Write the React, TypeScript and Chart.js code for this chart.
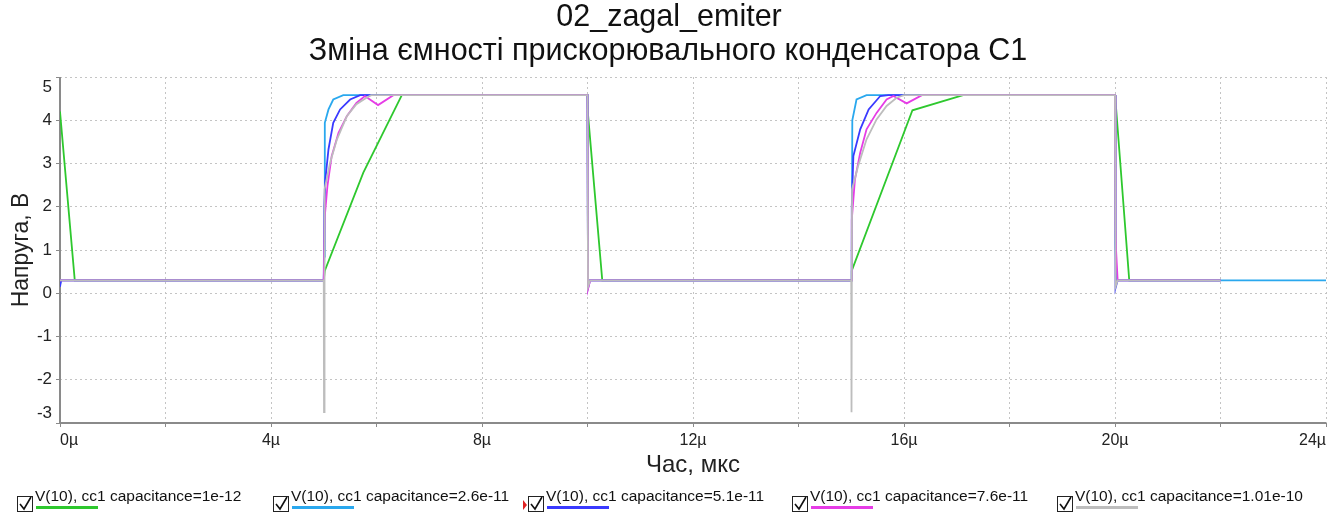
import React, { useEffect, useRef } from 'react';
import { Chart, registerables } from 'chart.js';

Chart.register(...registerables);

const TITLE_LINES = ['02_zagal_emiter', 'Зміна ємності прискорювального конденсатора С1'];
const X_TITLE = 'Час, мкс';
const Y_TITLE = 'Напруга, В';

const SERIES_NAMES = [
  'V(10), cc1 capacitance=1e-12',
  'V(10), cc1 capacitance=2.6e-11',
  'V(10), cc1 capacitance=5.1e-11',
  'V(10), cc1 capacitance=7.6e-11',
  'V(10), cc1 capacitance=1.01e-10',
];
const SERIES_COLORS = ['#2ec82e', '#2aa8ee', '#3a3aff', '#e63ce6', '#bdbdbd'];

// time in µs, voltage in V
const greenT = [0, 0.28, 5.0, 5.02, 5.75, 6.48, 10.0, 10.01, 10.28, 15.0, 15.01, 16.16, 17.12, 20.0, 20.01, 20.27, 22.0];
const greenV = [4.2, 0.3, 0.3, 0.52, 2.79, 4.58, 4.58, 4.13, 0.3, 0.3, 0.52, 4.23, 4.58, 4.58, 4.45, 0.3, 0.3];

const cyanT = [0, 0.02, 5.0, 5.01, 5.02, 5.09, 5.18, 5.37, 10.0, 10.01, 10.04, 15.0, 15.01, 15.02, 15.1, 15.29, 20.0, 20.01, 20.03, 24.0];
const cyanV = [0.2, 0.3, 0.3, 0.85, 3.94, 4.25, 4.48, 4.58, 4.58, 0.2, 0.3, 0.3, 0.85, 4.0, 4.48, 4.58, 4.58, 1.1, 0.3, 0.3];

const blueT = [0, 0.02, 5.0, 5.01, 5.03, 5.09, 5.18, 5.31, 5.5, 5.69, 10.0, 10.01, 10.05, 15.0, 15.01, 15.04, 15.17, 15.33, 15.55, 15.7, 20.0, 20.01, 20.05, 22.0];
const blueV = [0.15, 0.3, 0.3, 2.02, 2.63, 3.33, 3.94, 4.25, 4.48, 4.58, 4.58, 0.12, 0.3, 0.3, 2.0, 3.17, 3.79, 4.25, 4.56, 4.58, 4.58, 0.12, 0.3, 0.3];

const magentaT = [0, 5.0, 5.02, 5.07, 5.15, 5.28, 5.44, 5.62, 5.78, 6.03, 6.32, 10.0, 10.01, 10.05, 15.0, 15.01, 15.07, 15.17, 15.29, 15.48, 15.67, 15.8, 16.05, 16.34, 20.0, 20.01, 20.02, 20.05, 22.0];
const magentaV = [0.3, 0.3, 1.78, 2.48, 3.17, 3.71, 4.1, 4.4, 4.56, 4.35, 4.58, 4.58, 0.1, 0.3, 0.3, 1.7, 2.63, 3.25, 3.79, 4.17, 4.48, 4.56, 4.39, 4.58, 4.58, 1.55, 1.0, 0.3, 0.3];

const grayT = [0, 5.0, 5.005, 5.015, 5.12, 5.25, 5.44, 5.62, 5.81, 5.9, 10.0, 10.01, 10.05, 15.0, 15.005, 15.015, 15.13, 15.29, 15.48, 15.67, 15.86, 16.0, 20.0, 20.01, 20.05, 22.0];
const grayV = [0.3, 0.3, -2.75, 2.4, 3.02, 3.56, 4.1, 4.37, 4.52, 4.58, 4.58, 0.15, 0.3, 0.3, -2.75, 2.4, 2.94, 3.56, 4.02, 4.33, 4.52, 4.58, 4.58, 0.15, 0.3, 0.3];

const SERIES_T = [greenT, cyanT, blueT, magentaT, grayT];
const SERIES_V = [greenV, cyanV, blueV, magentaV, grayV];
const DRAW_ORDER = [4, 3, 2, 1, 0];

const X_MIN = 0;
const X_MAX = 24;
const X_STEP = 2;
const X_LABEL_STEP = 4;
const Y_MIN = -3;
const Y_MAX = 5;
const Y_STEP = 1;

const FONT = "'Liberation Sans', Arial, sans-serif";
const LEGEND_X = [17, 273, 528, 792, 1057];
const TICK_FONT_SIZE = 17;
const AXIS_COLOR = '#8a8a8a';

const decorPlugin = {
  id: 'decor',
  beforeDatasetsDraw(chart: any) {
    const ctx = chart.ctx;
    const a = chart.chartArea;
    ctx.save();
    ctx.strokeStyle = AXIS_COLOR;
    ctx.lineWidth = 2;
    ctx.setLineDash([]);
    ctx.beginPath();
    ctx.moveTo(a.left, a.top);
    ctx.lineTo(a.left, a.bottom);
    ctx.lineTo(a.right, a.bottom);
    ctx.stroke();
    ctx.restore();
  },
  afterDraw(chart: any) {
    const ctx = chart.ctx;
    ctx.save();
    ctx.fillStyle = '#111';
    ctx.font = `30.5px ${FONT}`;
    ctx.textAlign = 'center';
    ctx.textBaseline = 'middle';
    ctx.fillText(TITLE_LINES[0], 669, 18);
    ctx.fillText(TITLE_LINES[1], 668, 52);
    // end labels of the value axis sit inside the plot edges
    const y = chart.scales.y;
    ctx.font = `${TICK_FONT_SIZE}px ${FONT}`;
    ctx.fillStyle = '#222';
    ctx.textAlign = 'right';
    ctx.fillText(String(Y_MAX), y.right - 8, y.getPixelForValue(Y_MAX) + 10);
    ctx.fillText(String(Y_MIN), y.right - 8, y.getPixelForValue(Y_MIN) - 10);
    ctx.restore();
  },
};

function CheckBox() {
  return (
    <svg width="16" height="16" style={{ position: 'absolute', left: 0, top: 10 }}>
      <rect x="0.5" y="0.5" width="15" height="15" fill="#fff" stroke="#222" strokeWidth="1" />
      <polyline points="3,8 7,13 14,1" fill="none" stroke="#111" strokeWidth="1.6" />
    </svg>
  );
}

export default function App() {
  const ref = useRef<HTMLCanvasElement | null>(null);

  useEffect(() => {
    if (!ref.current) return;
    const datasets = SERIES_NAMES.map((name, i) => ({
      label: name,
      data: SERIES_T[i].map((t, j) => ({ x: t, y: SERIES_V[i][j] })),
      borderColor: SERIES_COLORS[i],
      backgroundColor: SERIES_COLORS[i],
      borderWidth: 1.8,
      pointRadius: 0,
      tension: 0,
      fill: false,
      order: DRAW_ORDER[i],
    }));
    const chart = new Chart(ref.current, {
      type: 'line',
      data: { datasets },
      plugins: [decorPlugin],
      options: {
        responsive: false,
        animation: false,
        devicePixelRatio: 1,
        layout: { padding: { top: 77, right: 14, bottom: 38, left: 0 } },
        plugins: { legend: { display: false }, title: { display: false }, tooltip: { enabled: false } },
        scales: {
          x: {
            type: 'linear',
            min: X_MIN,
            max: X_MAX,
            afterFit(scale: any) { scale.height = 57; },
            border: { display: false, dash: [2, 3] },
            grid: { color: '#c4c4c4', tickLength: 4, tickColor: AXIS_COLOR, tickBorderDash: [] },
            ticks: {
              stepSize: X_STEP,
              autoSkip: false,
              maxRotation: 0,
              align: 'inner',
              padding: 4,
              color: '#222',
              font: { family: FONT, size: 16 },
              callback: (v: any) => (Number(v) % X_LABEL_STEP === 0 ? `${v}µ` : ''),
            },
            title: { display: true, text: X_TITLE, color: '#222', font: { family: FONT, size: 24 }, padding: { top: 0, bottom: 0 } },
          },
          y: {
            type: 'linear',
            min: Y_MIN,
            max: Y_MAX,
            afterFit(scale: any) { scale.width = 60; },
            border: { display: false, dash: [2, 3] },
            grid: { color: '#c4c4c4', tickLength: 4, tickColor: AXIS_COLOR, tickBorderDash: [] },
            ticks: {
              stepSize: Y_STEP,
              padding: 4,
              color: '#222',
              font: { family: FONT, size: TICK_FONT_SIZE },
              callback: (v: any) => (Number(v) === Y_MAX || Number(v) === Y_MIN ? '' : String(v)),
            },
            title: { display: true, text: Y_TITLE, color: '#222', font: { family: FONT, size: 23 }, padding: { top: 8, bottom: 0 } },
          },
        },
      },
    });
    return () => chart.destroy();
  }, []);

  return (
    <div style={{ position: 'fixed', left: 0, top: 0, width: 1340, height: 518, background: '#fff', fontFamily: FONT }}>
      <canvas ref={ref} width={1340} height={518} style={{ position: 'absolute', left: 0, top: 0 }} />
      {SERIES_NAMES.map((name, i) => (
        <div key={name} style={{ position: 'absolute', left: LEGEND_X[i], top: 486, height: 30, whiteSpace: 'nowrap' }}>
          {i === 2 && (
            <div style={{ position: 'absolute', left: -5, top: 14, width: 0, height: 0, borderTop: '5px solid transparent', borderBottom: '5px solid transparent', borderLeft: '4px solid #e02020' }} />
          )}
          <CheckBox />
          <div style={{ position: 'absolute', left: 18, top: 1, fontSize: 15.5, color: '#111', lineHeight: '17px' }}>{name}</div>
          <div style={{ position: 'absolute', left: 19, top: 20, width: 62, height: 3, background: SERIES_COLORS[i] }} />
        </div>
      ))}
    </div>
  );
}
